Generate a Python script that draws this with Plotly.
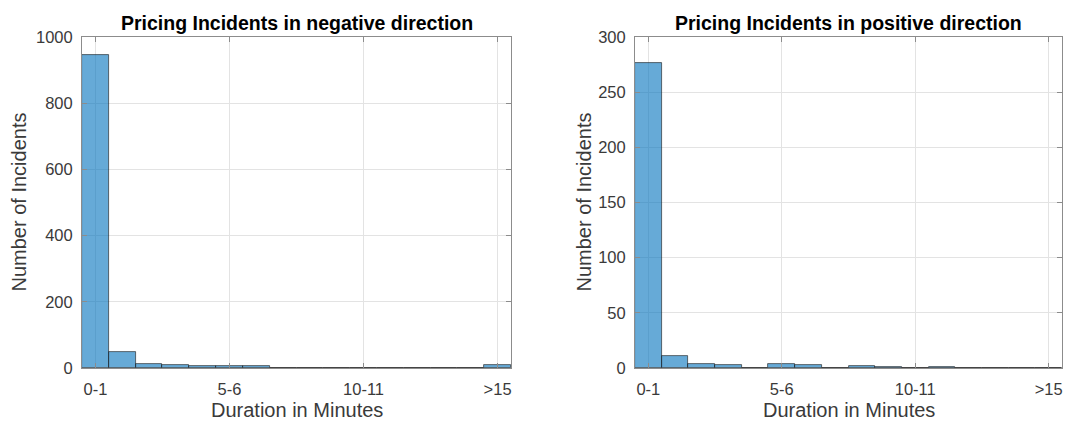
import plotly.graph_objects as go

categories = ["0-1", "1-2", "2-3", "3-4", "4-5", "5-6", "6-7", "7-8", "8-9", "9-10",
              "10-11", "11-12", "12-13", "13-14", "14-15", ">15"]
neg_counts = [945, 48, 11, 8, 6, 6, 5, 1, 1, 0, 0, 0, 0, 0, 0, 8]
pos_counts = [276, 11, 4, 3, 0, 4, 3, 0, 2, 1, 0, 1, 0, 0, 0, 0]
x_tick_labels = ["0-1", "5-6", "10-11", ">15"]
neg_yticks = [0, 200, 400, 600, 800, 1000]
pos_yticks = [0, 50, 100, 150, 200, 250, 300]
titles = ["Pricing Incidents in negative direction", "Pricing Incidents in positive direction"]

W, H = 1069, 425
FONT = "Liberation Sans, Arial, sans-serif"
bar_fill = "rgba(0,114,189,0.6)"
edge = "rgba(20,20,20,0.75)"
axis_col = "#8c8c8c"
grid_col = "#e3e3e3"
tick_font = dict(family=FONT, size=16.5, color="#3a3a3a")

def px(x):
    return min(1.0, max(0.0, x / W))

def py(y):
    return (H - y) / H

fig = go.Figure()
fig.add_trace(go.Bar(x=categories, y=neg_counts, xaxis="x", yaxis="y",
                     marker=dict(color=bar_fill, line=dict(color=edge, width=0.8)),
                     showlegend=False, hoverinfo="x+y"))
fig.add_trace(go.Bar(x=categories, y=pos_counts, xaxis="x2", yaxis="y2",
                     marker=dict(color=bar_fill, line=dict(color=edge, width=0.8)),
                     showlegend=False, hoverinfo="x+y"))

left = (82, 511)
right = (635, 1062)
top, bottom = 37, 368
yd = [py(bottom), py(top)]

def xax(dom, anchor):
    return dict(domain=[px(dom[0]), px(dom[1])], anchor=anchor, type="category",
                categoryorder="array", categoryarray=categories,
                range=[-0.5, len(categories) - 0.5], automargin=False,
                tickmode="array", tickvals=x_tick_labels, ticktext=x_tick_labels,
                showgrid=True, gridcolor=grid_col, gridwidth=1,
                showline=True, linecolor=axis_col, linewidth=1, mirror="allticks",
                ticks="inside", ticklen=5, tickcolor=axis_col,
                tickfont=tick_font, zeroline=False, ticklabelstandoff=6,
                ticklabeloverflow="allow")

def yax(ticks, anchor):
    return dict(domain=yd, anchor=anchor, range=[ticks[0], ticks[-1]], automargin=False,
                tickmode="array", tickvals=ticks,
                showgrid=True, gridcolor=grid_col, gridwidth=1,
                showline=True, linecolor=axis_col, linewidth=1, mirror="allticks",
                ticks="inside", ticklen=5, tickcolor=axis_col,
                tickfont=tick_font, zeroline=False, ticklabelstandoff=5)

fig.update_layout(
    width=W, height=H, margin=dict(l=0, r=0, t=0, b=0, pad=0, autoexpand=False),
    paper_bgcolor="white", plot_bgcolor="white", bargap=0,
    xaxis=xax(left, "y"), yaxis=yax(neg_yticks, "x"),
    xaxis2=xax(right, "y2"), yaxis2=yax(pos_yticks, "x2"),
    font=dict(family=FONT),
)

anns = []
for dom, t, yx in [(left, titles[0], 18), (right, titles[1], 583)]:
    cx = px((dom[0] + dom[1]) / 2)
    anns.append(dict(text="<b>" + t + "</b>", x=cx, y=py(23), xref="paper", yref="paper",
                     showarrow=False, xanchor="center", yanchor="middle",
                     font=dict(family=FONT, size=19.5, color="black")))
    anns.append(dict(text="Duration in Minutes", x=cx, y=py(410), xref="paper", yref="paper",
                     showarrow=False, xanchor="center", yanchor="middle",
                     font=dict(family=FONT, size=20, color="#3a3a3a")))
    anns.append(dict(text="Number of Incidents", x=px(yx), y=py((top + bottom) / 2),
                     xref="paper", yref="paper", showarrow=False, textangle=-90,
                     xanchor="center", yanchor="middle",
                     font=dict(family=FONT, size=20, color="#3a3a3a")))
fig.update_layout(annotations=anns)

fig.write_html("out.html", config={"displayModeBar": False},
               post_script="document.body.style.margin='0';")
